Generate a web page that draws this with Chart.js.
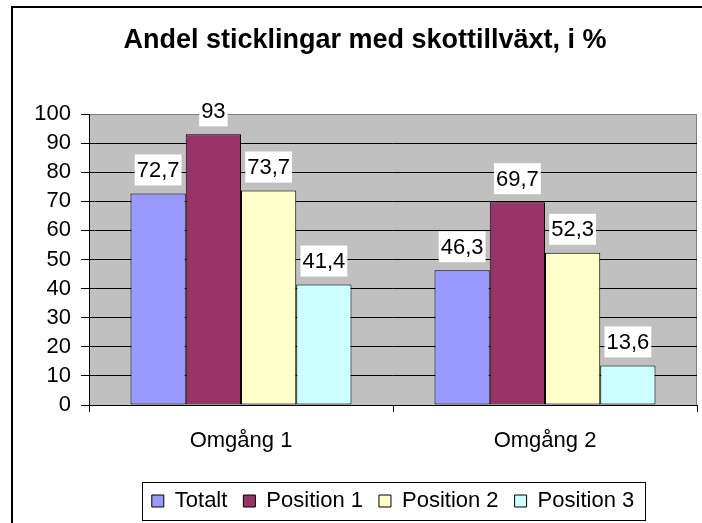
<!DOCTYPE html>
<html>
<head>
<meta charset="utf-8">
<title>Andel sticklingar med skottillväxt</title>
<script src="https://cdn.jsdelivr.net/npm/chart.js@4.4.0/dist/chart.umd.min.js"></script>
<style>
  html, body { margin: 0; padding: 0; background: #fff; overflow: hidden; }
  canvas { display: block; }
</style>
</head>
<body>
<canvas id="myChart" width="702" height="523"></canvas>
<script>
// Data
var categories = ['Omgång 1', 'Omgång 2'];
var seriesNames = ['Totalt', 'Position 1', 'Position 2', 'Position 3'];
var totalt = [72.7, 46.3];
var position1 = [93, 69.7];
var position2 = [73.7, 52.3];
var position3 = [41.4, 13.6];
var seriesColors = ['#9999ff', '#993366', '#ffffcc', '#ccffff'];
var chartTitle = 'Andel sticklingar med skottillväxt, i %';

Chart.defaults.font.family = '"Liberation Sans", Arial, sans-serif';
Chart.defaults.color = '#000';

// Grey plot area + outer frame (only left and top edges are in view)
var plotBackground = {
    id: 'plotBackground',
    beforeDraw: function (chart) {
        var ctx = chart.ctx, a = chart.chartArea;
        ctx.save();
        ctx.strokeStyle = '#000';
        ctx.lineWidth = 2;
        ctx.beginPath();
        ctx.moveTo(12, 523);
        ctx.lineTo(12, 7);
        ctx.lineTo(702, 7);
        ctx.stroke();

        ctx.fillStyle = '#c0c0c0';
        ctx.fillRect(a.left, a.top, a.right - a.left, a.bottom - a.top);
        ctx.strokeStyle = '#808080';
        ctx.lineWidth = 1;
        ctx.beginPath();
        ctx.moveTo(a.right - 0.5, a.top);
        ctx.lineTo(a.right - 0.5, a.bottom);
        ctx.stroke();
        ctx.restore();
    }
};

// Value labels on white boxes above each bar
var valueLabels = {
    id: 'valueLabels',
    afterDatasetsDraw: function (chart) {
        var ctx = chart.ctx;
        ctx.save();
        ctx.font = '22px "Liberation Sans", Arial, sans-serif';
        ctx.textAlign = 'center';
        ctx.textBaseline = 'middle';
        chart.data.datasets.forEach(function (ds, i) {
            chart.getDatasetMeta(i).data.forEach(function (bar, j) {
                var text = String(ds.data[j]).replace('.', ',');
                var w = ctx.measureText(text).width + 4;
                var h = 31;
                var bottom = bar.y - 8;
                ctx.fillStyle = '#fff';
                ctx.fillRect(bar.x - w / 2, bottom - h, w, h);
                ctx.fillStyle = '#000';
                ctx.fillText(text, bar.x, bottom - h / 2 + 1);
            });
        });
        ctx.restore();
    }
};

// Frame round the legend
var legendFrame = {
    id: 'legendFrame',
    afterDraw: function (chart) {
        var boxes = chart.legend && chart.legend.legendHitBoxes;
        if (!boxes || !boxes.length) return;
        var first = boxes[0], last = boxes[boxes.length - 1];
        var x1 = Math.round(first.left - 10) + 0.5;
        var x2 = Math.round(last.left + last.width + 11) + 0.5;
        var cy = first.top + first.height / 2;
        var y1 = Math.round(cy - 19) + 0.5;
        var y2 = Math.round(cy + 19) + 0.5;
        var ctx = chart.ctx;
        ctx.save();
        ctx.strokeStyle = '#000';
        ctx.lineWidth = 1;
        ctx.strokeRect(x1, y1, x2 - x1, y2 - y1);
        ctx.restore();
    }
};

var seriesData = [totalt, position1, position2, position3];
var datasets = seriesNames.map(function (name, i) {
    return {
        label: name,
        data: seriesData[i],
        backgroundColor: seriesColors[i],
        borderColor: '#000',
        borderWidth: 1,
        borderSkipped: false
    };
});

var ctx = document.getElementById('myChart').getContext('2d');
var myChart = new Chart(ctx, {
    type: 'bar',
    data: {
        labels: categories,
        datasets: datasets
    },
    options: {
        responsive: false,
        animation: false,
        layout: {
            padding: { left: 33, right: 5, top: 0, bottom: 1 }
        },
        datasets: {
            bar: {
                categoryPercentage: 0.727,
                barPercentage: 1
            }
        },
        scales: {
            x: {
                grid: {
                    offset: true,
                    drawOnChartArea: false,
                    drawTicks: true,
                    tickLength: 7,
                    color: '#000'
                },
                border: { color: '#000', width: 1 },
                ticks: {
                    color: '#000',
                    padding: 16,
                    font: { size: 22 }
                },
                afterFit: function (scale) { scale.height = 69; }
            },
            y: {
                min: 0,
                max: 100,
                ticks: {
                    stepSize: 10,
                    autoSkip: false,
                    padding: 10,
                    color: '#000',
                    font: { size: 22 }
                },
                grid: {
                    color: function (c) {
                        return c.tick && c.tick.value === 100 ? '#808080' : '#000';
                    },
                    tickColor: '#000',
                    tickLength: 8,
                    lineWidth: 1
                },
                border: { color: '#000', width: 1 },
                afterFit: function (scale) { scale.width = 56; }
            }
        },
        plugins: {
            title: {
                display: true,
                text: chartTitle,
                color: '#000',
                font: { size: 27, weight: 'bold' },
                padding: { top: 24, bottom: 57.6 }
            },
            legend: {
                position: 'bottom',
                fullSize: false,
                labels: {
                    boxWidth: 12,
                    boxHeight: 12,
                    padding: 16,
                    color: '#000',
                    font: { size: 22 }
                }
            },
            tooltip: { enabled: false }
        }
    },
    plugins: [plotBackground, valueLabels, legendFrame]
});
</script>
</body>
</html>
